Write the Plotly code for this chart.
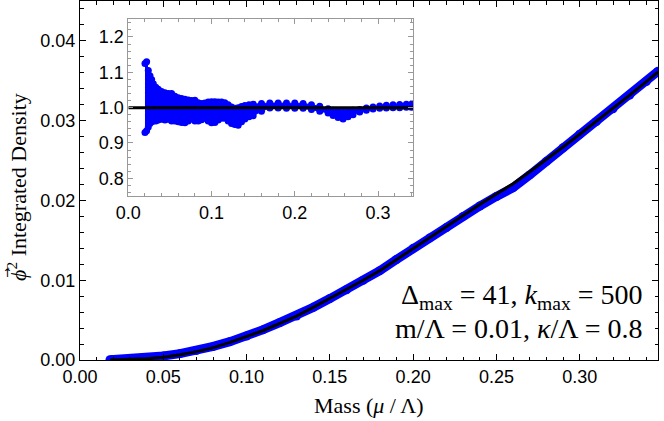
import plotly.graph_objects as go

# main panel: integrated density of phi^2 against mass
mass_data = [0.018, 0.02, 0.03, 0.04, 0.05, 0.06, 0.07, 0.08, 0.09, 0.10, 0.11, 0.12,
             0.13, 0.14, 0.15, 0.16, 0.17, 0.18, 0.19, 0.20, 0.21, 0.22, 0.23, 0.24,
             0.25, 0.26, 0.27, 0.28, 0.29, 0.30, 0.31, 0.32, 0.33, 0.34, 0.347]
density_data = [0.00003, 0.00005, 0.00017, 0.0003, 0.0005, 0.0008, 0.0012, 0.0017, 0.0023,
                0.0030, 0.0038, 0.0047, 0.0055, 0.0066, 0.0077, 0.0088, 0.0100, 0.0112,
                0.0126, 0.0140, 0.0153, 0.0166, 0.0180, 0.0193, 0.0205, 0.0216, 0.0232,
                0.0249, 0.0266, 0.0283, 0.0299, 0.0315, 0.0332, 0.0349, 0.0362]

fit_mass = [0.018, 0.03, 0.04, 0.05, 0.06, 0.07, 0.08, 0.09, 0.10, 0.11, 0.12, 0.13,
            0.14, 0.15, 0.16, 0.17, 0.18, 0.19, 0.20, 0.21, 0.22, 0.23, 0.24, 0.25,
            0.26, 0.27, 0.28, 0.29, 0.30, 0.31, 0.32, 0.33, 0.34, 0.347]
fit_density = [0.0, 0.00005, 0.00015, 0.00035, 0.00065, 0.00105, 0.00155, 0.0022, 0.0029,
               0.0037, 0.0046, 0.0055, 0.0066, 0.0077, 0.0088, 0.0100, 0.0112, 0.0126,
               0.0140, 0.0153, 0.0167, 0.0181, 0.0195, 0.0208, 0.0221, 0.0236, 0.0251,
               0.0267, 0.0283, 0.0299, 0.0315, 0.0332, 0.0349, 0.0361]

# inset: data / fit, upper and lower edge of the point cloud
ratio_mass = [0.020, 0.022, 0.024, 0.026, 0.028, 0.030, 0.033, 0.036, 0.040, 0.044,
              0.048, 0.052, 0.056, 0.060, 0.064, 0.068, 0.072, 0.076, 0.080, 0.084,
              0.088, 0.092, 0.096, 0.100, 0.104, 0.108, 0.112, 0.116, 0.120, 0.124,
              0.128, 0.132, 0.136, 0.140, 0.145, 0.150, 0.160, 0.170, 0.180, 0.190,
              0.200, 0.210, 0.220, 0.230, 0.240, 0.246, 0.252, 0.258, 0.264, 0.270,
              0.278, 0.286, 0.294, 0.302, 0.310, 0.318, 0.326, 0.334, 0.340]
ratio_hi = [1.125, 1.130, 1.105, 1.090, 1.080, 1.068, 1.058, 1.052, 1.046, 1.042,
            1.040, 1.040, 1.032, 1.028, 1.026, 1.024, 1.022, 1.020, 1.021, 1.014,
            1.012, 1.013, 1.016, 1.017, 1.017, 1.016, 1.016, 1.014, 1.008, 1.002,
            0.998, 1.000, 1.003, 1.006, 1.008, 1.010, 1.012, 1.013, 1.013, 1.013,
            1.013, 1.012, 1.008, 1.004, 0.997, 0.993, 0.990, 0.987, 0.990, 0.993,
            0.995, 0.999, 1.002, 1.005, 1.007, 1.008, 1.009, 1.010, 1.010]
ratio_lo = [0.930, 0.935, 0.945, 0.955, 0.960, 0.962, 0.962, 0.965, 0.967, 0.965,
            0.967, 0.962, 0.962, 0.960, 0.958, 0.957, 0.962, 0.968, 0.962, 0.962,
            0.966, 0.970, 0.962, 0.957, 0.958, 0.965, 0.970, 0.970, 0.962, 0.955,
            0.952, 0.950, 0.960, 0.968, 0.974, 0.977, 0.990, 0.999, 0.999, 0.998,
            0.998, 0.998, 0.995, 0.990, 0.985, 0.978, 0.972, 0.968, 0.974, 0.980,
            0.988, 0.993, 0.996, 0.998, 0.999, 1.000, 1.000, 1.001, 1.001]
ratio_ref_mass = [0.0, 0.342]
ratio_ref = [1.0, 1.0]

BLUE = "#0000ff"
GRAY = "#999999"
SANS = "Liberation Sans, Arial, sans-serif"
SERIF = "Liberation Serif, Times New Roman, serif"

fig = go.Figure()

fig.add_trace(go.Scatter(x=mass_data, y=density_data, mode="lines+markers",
                         line=dict(color=BLUE, width=9),
                         marker=dict(color=BLUE, size=9), showlegend=False))
fig.add_trace(go.Scatter(x=fit_mass, y=fit_density, mode="lines",
                         line=dict(color="black", width=3), showlegend=False))

# inset: shaded spread between the envelopes, then the points on them
fig.add_trace(go.Scatter(x=ratio_mass + ratio_mass[::-1], y=ratio_hi + ratio_lo[::-1],
                         mode="lines", fill="toself", fillcolor=BLUE,
                         line=dict(color=BLUE, width=1), xaxis="x2", yaxis="y2",
                         showlegend=False, hoverinfo="skip"))
fig.add_trace(go.Scatter(x=ratio_mass, y=ratio_lo, mode="markers",
                         marker=dict(color=BLUE, size=7), xaxis="x2", yaxis="y2",
                         showlegend=False))
fig.add_trace(go.Scatter(x=ratio_mass, y=ratio_hi, mode="markers",
                         marker=dict(color=BLUE, size=7), xaxis="x2", yaxis="y2",
                         showlegend=False))
fig.add_trace(go.Scatter(x=ratio_ref_mass, y=ratio_ref, mode="lines",
                         line=dict(color="black", width=3), xaxis="x2", yaxis="y2",
                         showlegend=False))

main_axis = dict(showgrid=False, zeroline=False, showline=True, linecolor="black",
                 linewidth=1, mirror="ticks", ticks="inside", ticklen=6, tickcolor="black",
                 tickfont=dict(family=SANS, size=18, color="black"))
inset_axis = dict(showgrid=False, zeroline=False, showline=True, linecolor=GRAY,
                  mirror="ticks", ticks="inside", ticklen=5, tickcolor=GRAY,
                  tickfont=dict(family=SANS, size=18, color="black"))
fig.update_layout(
    width=664, height=421,
    margin=dict(l=80, r=6, t=1, b=61),
    paper_bgcolor="white", plot_bgcolor="white",
    xaxis=dict(range=[0, 0.347], dtick=0.05, tickformat=".2f",
               minor=dict(dtick=0.01, ticklen=3.5, ticks="inside", tickcolor="black"),
               **main_axis),
    yaxis=dict(range=[0, 0.045], dtick=0.01, tickformat=".2f",
               minor=dict(dtick=0.002, ticklen=3.5, ticks="inside", tickcolor="black"),
               **main_axis),
    xaxis2=dict(domain=[0.0836, 0.5761], anchor="y2", range=[0, 0.342], dtick=0.1,
                tickformat=".1f",
                minor=dict(dtick=0.02, ticklen=3, ticks="inside", tickcolor=GRAY),
                **inset_axis),
    yaxis2=dict(domain=[0.4568, 0.949], anchor="x2", range=[0.75, 1.25], dtick=0.1,
                tickformat=".1f",
                minor=dict(dtick=0.02, ticklen=3, ticks="inside", tickcolor=GRAY),
                **inset_axis),
)

fig.add_annotation(text="Mass (<i>μ</i> / Λ)", xref="paper", yref="paper",
                   x=0.5, y=-0.128, xanchor="center", yanchor="middle", showarrow=False,
                   font=dict(family=SERIF, size=22, color="black"))
fig.add_annotation(text="<i>ϕ</i><sup>2</sup> Integrated Density",
                   xref="paper", yref="paper",
                   x=-0.109, y=0.482, xanchor="center", yanchor="middle", textangle=-90,
                   showarrow=False, font=dict(family=SERIF, size=22, color="black"))
# vector arrow over the phi of the axis title
fig.add_annotation(text="→", xref="paper", yref="paper",
                   x=(7 - 80) / 578, y=(360 - 273) / 359, xanchor="center",
                   yanchor="middle", textangle=-90, showarrow=False,
                   font=dict(family="DejaVu Sans", size=12, color="black"))
fig.add_annotation(text="Δ<sub>max</sub> = 41, <i>k</i><sub>max</sub> = 500",
                   xref="paper", yref="paper", x=(645 - 80) / 578, y=(360 - 296) / 359,
                   xanchor="right", yanchor="middle", showarrow=False,
                   font=dict(family=SERIF, size=28, color="black"))
fig.add_annotation(text="m/Λ = 0.01, <i>κ</i>/Λ = 0.8",
                   xref="paper", yref="paper", x=(645 - 80) / 578, y=(360 - 328) / 359,
                   xanchor="right", yanchor="middle", showarrow=False,
                   font=dict(family=SERIF, size=28, color="black"))

# drop the default page margin so the figure sits at the window's corner
fig.write_html("out.html", config={"displayModeBar": False},
               post_script="document.body.style.margin = '0';")
